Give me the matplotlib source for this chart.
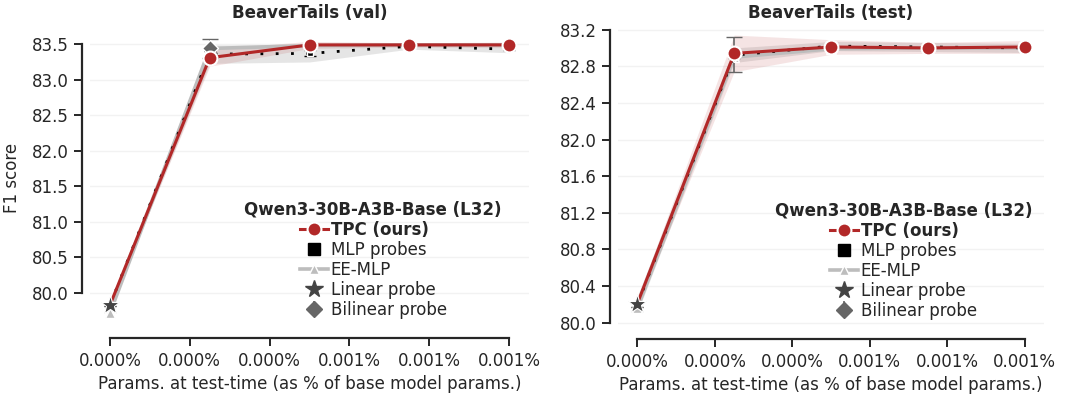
import matplotlib
matplotlib.use("Agg")
import matplotlib.pyplot as plt
from matplotlib.ticker import FuncFormatter
import numpy as np

# ---------------- data ----------------
x_params = [0.0, 0.00025, 0.0005, 0.00075, 0.001]        # % of base model params
x_ticks = [0.0, 0.0002, 0.0004, 0.0006, 0.0008, 0.001]

titles = ["BeaverTails (val)", "BeaverTails (test)"]

tpc_val = [79.83, 83.31, 83.49, 83.49, 83.49]
tpc_val_sd = [0.03, 0.12, 0.05, 0.03, 0.04]
mlp_val = [79.83, 83.36, 83.37, 83.47, 83.43]
mlp_val_sd = [0.05, 0.13, 0.12, 0.04, 0.05]
ee_val = [79.72, 83.44, 83.48, 83.49, 83.49]
lin_val, lin_val_sd = 79.83, 0.04
bil_val, bil_val_sd = 83.44, 0.13

tpc_test = [80.21, 82.94, 83.01, 83.00, 83.01]
tpc_test_sd = [0.05, 0.2, 0.08, 0.06, 0.07]
mlp_test = [80.20, 82.92, 83.02, 83.01, 83.00]
mlp_test_sd = [0.09, 0.08, 0.05, 0.05, 0.05]
ee_test = [80.16, 82.90, 82.99, 83.00, 83.00]
lin_test, lin_test_sd = 80.21, 0.04
bil_test, bil_test_sd = 82.93, 0.19

yticks_val = [80.0, 80.5, 81.0, 81.5, 82.0, 82.5, 83.0, 83.5]
yticks_test = [80.0, 80.4, 80.8, 81.2, 81.6, 82.0, 82.4, 82.8, 83.2]
ylims = [(79.48, 83.77), (79.91, 83.25)]

legend_title = "Qwen3-30B-A3B-Base (L32)"
labels = ["TPC (ours)", "MLP probes", "EE-MLP", "Linear probe", "Bilinear probe"]

# ---------------- style ----------------
RED = "#B22828"
DARK = "#262626"
plt.rcParams.update({
    "font.family": "DejaVu Sans",
    "font.size": 12,
    "axes.edgecolor": DARK,
    "axes.linewidth": 1.6,
    "xtick.color": DARK,
    "ytick.color": DARK,
    "text.color": DARK,
    "axes.labelcolor": DARK,
})

fig = plt.figure(figsize=(10.8, 3.97), dpi=100)
W, H = 1080, 397
positions = [
    [90 / W, (H - 330) / H, (529 - 90) / W, (330 - 25) / H],
    [618 / W, (H - 331) / H, (1044 - 618) / W, (331 - 25) / H],
]

panels = [
    (tpc_val, tpc_val_sd, mlp_val, mlp_val_sd, ee_val, lin_val, lin_val_sd, bil_val, bil_val_sd, yticks_val),
    (tpc_test, tpc_test_sd, mlp_test, mlp_test_sd, ee_test, lin_test, lin_test_sd, bil_test, bil_test_sd, yticks_test),
]

for i, (tpc, tpc_sd, mlp, mlp_sd, ee, lin, lin_sd, bil, bil_sd, yt) in enumerate(panels):
    ax = fig.add_axes(positions[i])
    x = np.array(x_params)
    tpc = np.array(tpc); tpc_sd = np.array(tpc_sd)
    mlp = np.array(mlp); mlp_sd = np.array(mlp_sd)

    ax.grid(axis="y", color="#f2f2f2", lw=1.0, zorder=0)
    ax.set_axisbelow(True)

    # bands
    ax.fill_between(x, mlp - mlp_sd, mlp + mlp_sd, color="#8c8c8c", alpha=0.22, lw=0, zorder=1)
    ax.fill_between(x, tpc - tpc_sd, tpc + tpc_sd, color=RED, alpha=0.12, lw=0, zorder=1)

    # EE-MLP
    ax.plot(x, ee, color="#bdbdbd", lw=2.6, marker="^", ms=7, mec="white", mew=1.0, zorder=2)
    # MLP probes
    ax.plot(x, mlp, color="black", lw=2.0, ls=(0, (1, 4.5)), zorder=3)
    ax.errorbar(x, mlp, yerr=mlp_sd * 0.35, fmt="s", color="black", ms=5, mec="white", mew=1.0,
                ecolor="black", elinewidth=1.2, capsize=4, capthick=1.5, zorder=3)
    # Linear probe
    ax.plot([x[0]], [lin], marker="*", color="#444444", ms=14, mec="white", mew=0.8, ls="none", zorder=6)
    # Bilinear probe
    ax.errorbar([x[1]], [bil], yerr=[bil_sd], fmt="D", color="#666666", ms=8, mec="white", mew=1.0,
                ecolor="#666666", elinewidth=1.2, capsize=6, capthick=1.5, zorder=4)
    # TPC
    ax.plot(x, tpc, color=RED, lw=2.2, zorder=5)
    ax.plot(x[1:], tpc[1:], ls="none", marker="o", color=RED, ms=10, mec="white", mew=1.5, zorder=7)

    ax.set_xlim(-0.05 * x_params[-1], 1.05 * x_params[-1])
    ax.set_ylim(*ylims[i])
    ax.set_xticks(x_ticks)
    ax.xaxis.set_major_formatter(FuncFormatter(lambda v, p: f"{v:.3f}%"))
    ax.set_yticks(yt)
    ax.yaxis.set_major_formatter(FuncFormatter(lambda v, p: f"{v:.1f}"))
    ax.tick_params(axis="both", labelsize=12, length=6, width=1.4, colors=DARK)

    for s in ["top", "right"]:
        ax.spines[s].set_visible(False)
    ax.spines["left"].set_position(("outward", 6))
    ax.spines["bottom"].set_position(("outward", 6))
    ax.spines["left"].set_bounds(yt[0], yt[-1])
    ax.spines["bottom"].set_bounds(x_ticks[0], x_ticks[-1])

    ax.set_title(titles[i], fontsize=12, fontweight="bold", pad=5)
    ax.set_xlabel("Params. at test-time (as % of base model params.)", fontsize=12, labelpad=4)
    if i == 0:
        ax.set_ylabel("F1 score", fontsize=12)
        ax.yaxis.set_label_coords(-0.158, 0.5)

    # legend
    h_tpc = plt.Line2D([], [], color=RED, lw=2.2, marker="o", ms=10, mec="white", mew=1.5)
    h_mlp = plt.Line2D([], [], color="black", ls="none", marker="s", ms=8)
    h_ee = plt.Line2D([], [], color="#bdbdbd", lw=2.6, marker="^", ms=7, mec="white", mew=1.0)
    h_lin = plt.Line2D([], [], color="#444444", ls="none", marker="*", ms=13)
    h_bil = ax.errorbar([], [], yerr=[], fmt="D", color="#666666", ms=8, ecolor="#666666",
                        capsize=6, capthick=1.5, elinewidth=1.2)
    leg = ax.legend([h_tpc, h_mlp, h_ee, h_lin, h_bil], labels, title=legend_title,
                    loc="center", bbox_to_anchor=(0.645 if i == 0 else 0.67, 0.23),
                    frameon=False, fontsize=12, title_fontproperties={"weight": "bold", "size": 12},
                    handlelength=1.7, handletextpad=0.15, labelspacing=0.12, borderpad=0.2)
    for t in leg.get_texts():
        if t.get_text() == "TPC (ours)":
            t.set_fontweight("bold")

fig.savefig("out.png", dpi=100)
